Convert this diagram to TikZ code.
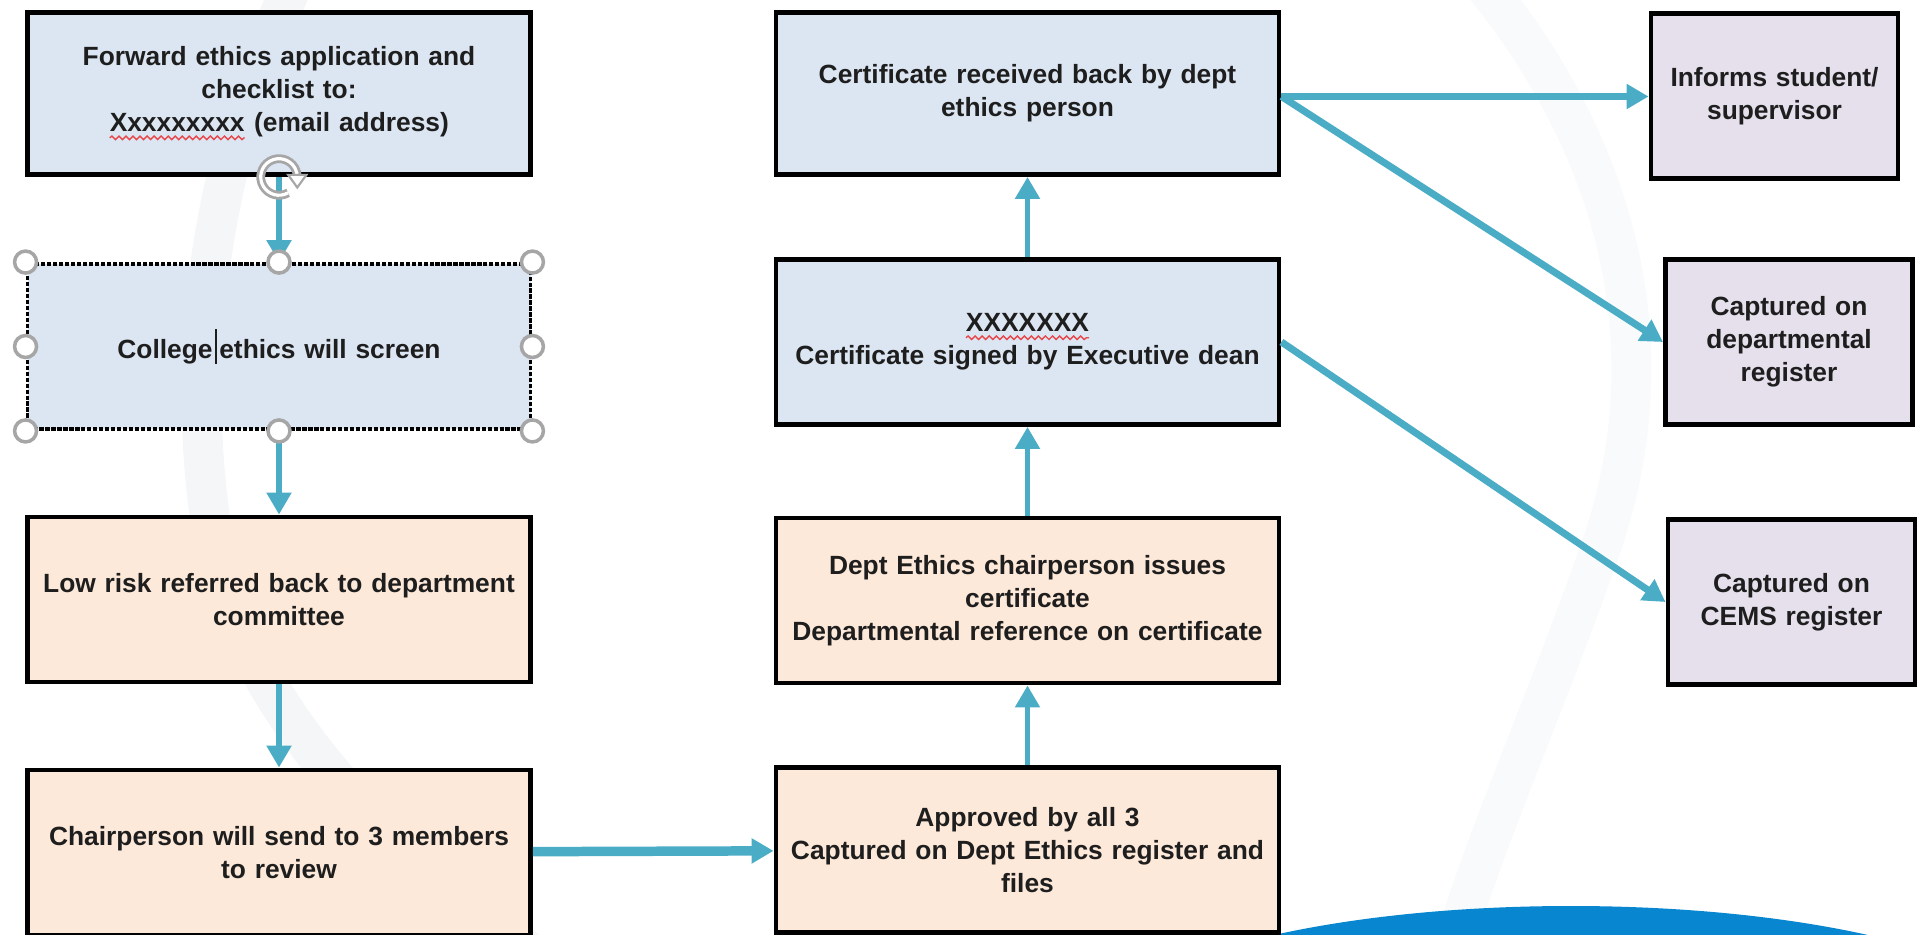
\documentclass[tikz,border=0pt]{standalone}
\usepackage{fontspec}
\setmainfont{Liberation Sans}
\usepackage{xcolor}
\usepackage{tikz}
\usetikzlibrary{arrows.meta,positioning,decorations.pathmorphing}

\definecolor{boxblue}{HTML}{DCE6F2}
\definecolor{boxpeach}{HTML}{FDE9D9}
\definecolor{boxlilac}{HTML}{E5E0EC}
\definecolor{flowcyan}{HTML}{4BACC6}
\definecolor{textdark}{HTML}{1E1E1E}
\definecolor{spellred}{HTML}{E8474A}
\definecolor{handlegray}{HTML}{A6A6A6}
\definecolor{wmgray}{HTML}{F5F6F8}
\definecolor{swoosh}{HTML}{0886D0}

\tikzset{squiggle/.style={-,solid,draw=spellred,line width=0.4pt,decorate,decoration={snake,segment length=2pt,amplitude=0.5pt}}}
\newcommand{\spellmark}[1]{\tikz[baseline=(sp.base)]{\node[inner sep=0pt,outer sep=0pt,text width={},minimum width=0pt,minimum height=0pt,draw=none,fill=none,align=left] (sp) {#1}; \draw[squiggle] ([yshift=-1.7pt]sp.base west) -- ([yshift=-1.7pt]sp.base east);}}

\begin{document}
\begin{tikzpicture}[x=0.1mm,y=-0.1mm,->,>={Triangle[length=2.2mm,width=2.4mm]},node distance=25.3mm,
  main box/.style={draw=black,line width=1.4pt,minimum width=50.3mm,minimum height=16.5mm,text width=48mm,align=center,inner sep=0pt,text=textdark,font=\bfseries\fontsize{7.5}{9.4}\selectfont},
  blue box/.style={main box,fill=boxblue},
  peach box/.style={main box,fill=boxpeach},
  side box/.style={main box,fill=boxlilac,minimum width=24.7mm,text width=24mm},
  flow/.style={draw=flowcyan,line width=1.5pt},
  link/.style={draw=flowcyan,line width=2pt},
  wide link/.style={draw=flowcyan,line width=2.7pt},
  handle/.style={-,draw=handlegray,fill=white,line width=1pt},
  watermark/.style={-,draw=wmgray,line width=4mm}]
    \useasboundingbox (0,0) rectangle (1923,934);
    \clip (0,0) rectangle (1923,934);
    % background
    \draw[watermark] (295,-20) .. controls (215,150) and (180,350) .. (215,550) .. controls (250,720) and (400,860) .. (540,960);
    \draw[watermark,draw=wmgray!60] (1480,-20) .. controls (1620,150) and (1670,350) .. (1600,550) .. controls (1540,720) and (1480,850) .. (1450,960);
    \fill[swoosh] (1571,1040) ellipse[x radius=478,y radius=134];
    % left column
    \node[blue box,minimum height=16.2mm] (fwd) at (279,93.5) {Forward ethics application and\\checklist to:\\\spellmark{Xxxxxxxxx} (email address)};
    \node[blue box,dash pattern=on 1.2pt off 0.5pt,line width=1.1pt] (screen) [below of=fwd] {College\kern0.6pt\rule[-0.35ex]{0.5pt}{2.5ex}\kern0.8pt ethics will screen};
    \node[peach box] (lowrisk) [below of=screen] {Low risk referred back to department\\committee};
    \node[peach box] (chair) [below of=lowrisk] {Chairperson will send to 3 members\\to review};
    % middle column
    \node[blue box,minimum height=16.2mm] (received) at (1027.5,93.5) {Certificate received back by dept\\ethics person};
    \node[blue box] (signed) at (1027.5,342) {\spellmark{XXXXXXX}\\Certificate signed by Executive dean};
    \node[peach box] (issues) at (1027.5,600.5) {Dept Ethics chairperson issues\\certificate\\Departmental reference on certificate};
    \node[peach box] (approved) at (1027.5,850) {Approved by all 3\\Captured on Dept Ethics register and\\files};
    % right column
    \node[side box] (informs) at (1774.5,96) {Informs student/\\supervisor};
    \node[side box] (deptreg) at (1789,342) {Captured on\\departmental\\register};
    \node[side box] (cemsreg) at (1791.5,602) {Captured on\\CEMS register};
    \coordinate (split) at ([yshift=-0.3mm]received.east);
    % connectors
    \draw[flow] (fwd) -- (screen);
    \draw[flow] (screen) -- (lowrisk);
    \draw[flow] (lowrisk) -- (chair);
    \draw[wide link] (chair) -- (approved);
    \draw[flow] (approved) -- (issues);
    \draw[flow] (issues) -- (signed);
    \draw[flow] (signed) -- (received);
    \draw[link] (split) -- (split -| informs.west);
    \draw[link] (split) -- (deptreg.west);
    \draw[link] (signed.east) -- (cemsreg.west);
    % selection handles
    \draw[handle] (screen.north west) circle[radius=11];
    \draw[handle] (screen.north) circle[radius=11];
    \draw[handle] (screen.north east) circle[radius=11];
    \draw[handle] (screen.west) circle[radius=11];
    \draw[handle] (screen.east) circle[radius=11];
    \draw[handle] (screen.south west) circle[radius=11];
    \draw[handle] (screen.south) circle[radius=11];
    \draw[handle] (screen.south east) circle[radius=11];
    \begin{scope}[shift={(fwd.south)},x=1pt,y=1pt]
      \draw[-,draw=handlegray,double=white,double distance=0.9pt,line width=0.8pt] (300:5.2) arc[start angle=300,end angle=0,radius=5.2];
      \draw[-,draw=handlegray,fill=white,line width=0.6pt] (2.6,0.6) -- (7.8,0.6) -- (5.2,-3) -- cycle;
    \end{scope}
\end{tikzpicture}
\end{document}
